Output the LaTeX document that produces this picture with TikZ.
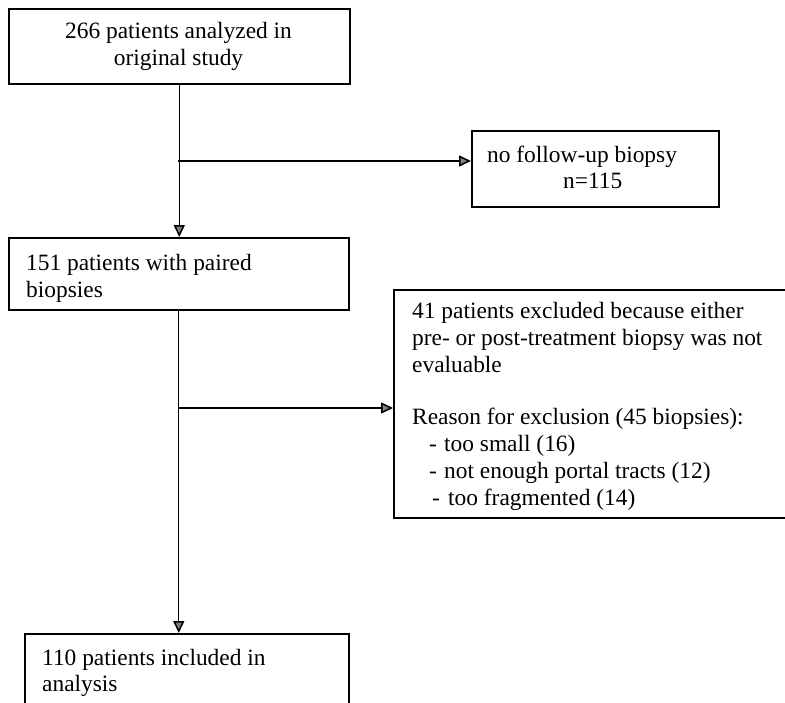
\documentclass[tikz,border=0pt]{standalone}
\usepackage{fontspec}
\setmainfont{Liberation Serif}
\usetikzlibrary{arrows.meta}
\begin{document}
\begin{tikzpicture}[x=1pt,y=-1pt,
  box/.style={draw,line width=1.5pt,rectangle,inner sep=0pt,anchor=north west},
  txt/.style={anchor=base west,inner sep=0pt,font=\fontsize{23.4}{27}\selectfont},
  ctxt/.style={txt,anchor=base},
  link/.style={line width=1.3pt},
  arr/.style={link,-{Triangle[length=12pt,width=11pt,fill=gray,line width=1.5pt]}}]
\useasboundingbox (0,0) rectangle (785,702);
\clip (0,0) rectangle (785,702);
% boxes
\node[box,minimum width=341pt,minimum height=75pt] (b1) at (8,8) {};
\node[box,minimum width=340pt,minimum height=72pt] (b2) at (8,237) {};
\node[box,minimum width=247pt,minimum height=76pt] (b3) at (471,130) {};
\node[box,minimum width=420pt,minimum height=228pt] (b4) at (393,289) {};
\node[box,minimum width=324pt,minimum height=100pt] (b5) at (24,633) {};
% texts
\node[ctxt] (t1a) at (178.5,38) {266 patients analyzed in};
\node[ctxt] (t1b) at (178.5,65) {original study};
\node[txt] (t3a) at (487,162) {no follow-up biopsy};
\node[txt] (t3b) at (563,188) {n=115};
\node[txt] (t2a) at (26,270) {151 patients with paired};
\node[txt] (t2b) at (26,297) {biopsies};
\node[txt] (t4a) at (412,318) {41 patients excluded because either};
\node[txt] (t4b) at (412,345) {pre- or post-treatment biopsy was not};
\node[txt] (t4c) at (412,372) {evaluable};
\node[txt] (t4d) at (412,424) {Reason for exclusion (45 biopsies):};
\node[txt] (t4e) at (429,451) {-\hspace{7.2pt}too small (16)};
\node[txt] (t4f) at (429,478) {-\hspace{7.2pt}not enough portal tracts (12)};
\node[txt] (t4g) at (432,505) {-\hspace{8.2pt}too fragmented (14)};
\node[txt] (t5a) at (42,665) {110 patients included in};
\node[txt] (t5b) at (42,691) {analysis};
% connectors
\coordinate (j1) at (178,161);
\coordinate (j2) at (178,408);
\draw[arr] (b1.south) -- (b1.south |- b2.north);
\draw[arr] (j1) -- (j1 -| b3.west);
\draw[arr] (b2.south) -- (b2.south |- b5.north);
\draw[arr] (j2) -- (j2 -| b4.west);
\end{tikzpicture}
\end{document}
